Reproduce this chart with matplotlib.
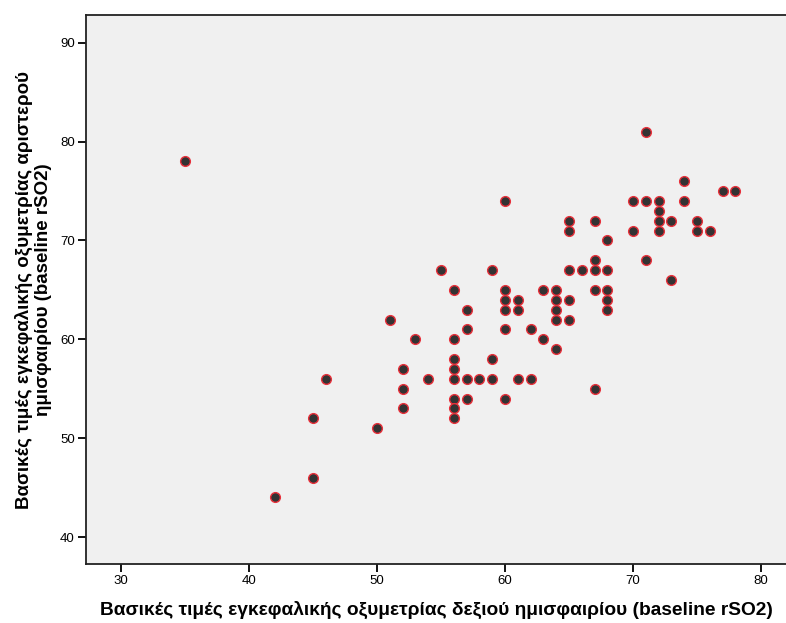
import matplotlib.pyplot as plt

# baseline rSO2: right hemisphere (x) vs left hemisphere (y)
right_rso2 = [35, 42, 45, 45, 46, 50, 51, 52, 52, 52, 53, 54, 55,
              56, 56, 56, 56, 56, 56, 56, 56,
              57, 57, 57, 57, 58, 59, 59, 59,
              60, 60, 60, 60, 60, 60, 61, 61, 61, 62, 62, 63, 63,
              64, 64, 64, 64, 64, 65, 65, 65, 65, 65, 66,
              67, 67, 67, 67, 67, 68, 68, 68, 68, 68,
              70, 70, 71, 71, 71, 72, 72, 72, 72, 73, 73,
              74, 74, 75, 75, 76, 77, 78]
left_rso2 = [78, 44, 52, 46, 56, 51, 62, 57, 55, 53, 60, 56, 67,
             65, 60, 58, 57, 56, 54, 53, 52,
             63, 61, 56, 54, 56, 67, 58, 56,
             74, 65, 64, 63, 61, 54, 64, 63, 56, 61, 56, 65, 60,
             65, 64, 63, 62, 59, 72, 71, 67, 64, 62, 67,
             72, 68, 67, 65, 55, 70, 67, 65, 64, 63,
             74, 71, 81, 74, 68, 74, 73, 72, 71, 72, 66,
             76, 74, 72, 71, 71, 75, 75]

x_ticks = [30, 40, 50, 60, 70, 80]
y_ticks = [40, 50, 60, 70, 80, 90]

plt.rcParams['font.family'] = ['Liberation Sans', 'DejaVu Sans']

fig = plt.figure(figsize=(7.86, 6.23), dpi=100)
ax = fig.add_axes([0.1094, 0.0947, 0.8906, 0.8812])
ax.set_facecolor('#f0f0f0')

ax.plot(right_rso2, left_rso2, 'o', markersize=7, markerfacecolor='#333333',
        markeredgecolor='#e8303a', markeredgewidth=1.0, linestyle='none')

ax.set_xlim(27.27, 81.95)
ax.set_ylim(37.27, 92.8)
ax.set_xticks(x_ticks)
ax.set_yticks(y_ticks)
ax.tick_params(axis='both', direction='out', length=6, width=1.3,
               labelsize=9.5, colors='black', pad=2)

for side in ['left', 'bottom', 'top']:
    ax.spines[side].set_linewidth(1.3)
    ax.spines[side].set_color('#222222')
ax.spines['right'].set_visible(False)

ax.set_xlabel('Βασικές τιμές εγκεφαλικής οξυμετρίας δεξιού ημισφαιρίου (baseline rSO2)',
              fontsize=13.8, fontweight='bold', labelpad=10)
ax.set_ylabel('Βασικές τιμές εγκεφαλικής οξυμετρίας αριστερού\nημισφαιρίου (baseline rSO2)',
              fontsize=13.5, fontweight='bold', labelpad=6, linespacing=1.15)

fig.savefig('out.png', dpi=100)
